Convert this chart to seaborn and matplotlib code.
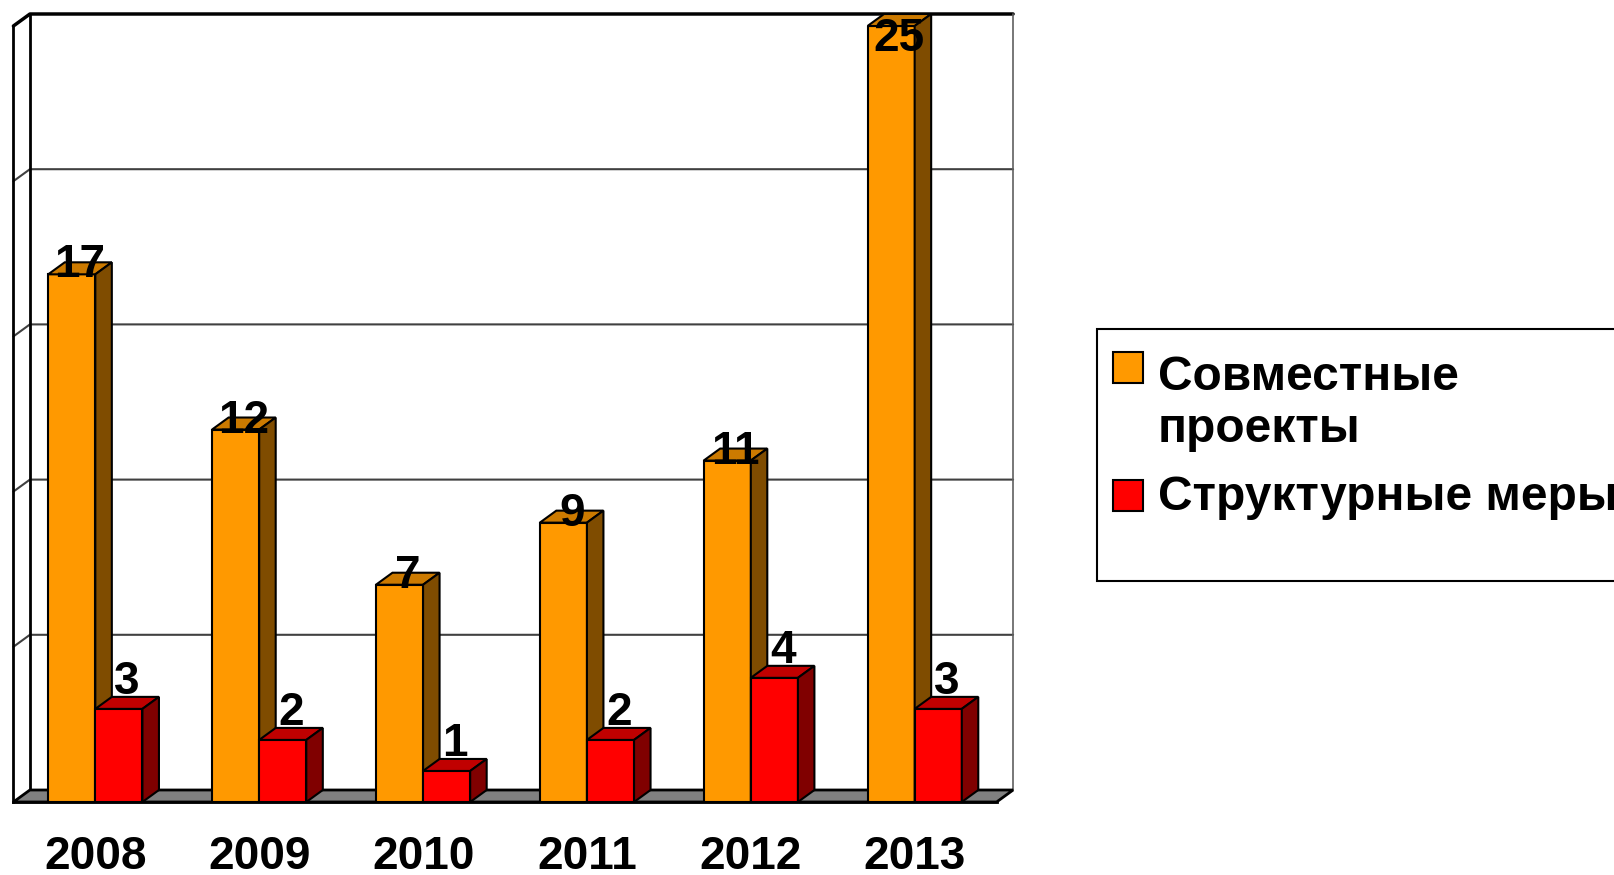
import numpy as np
import pandas as pd
import matplotlib
matplotlib.use("Agg")
import matplotlib.pyplot as plt
from matplotlib.patches import Polygon, Rectangle
import seaborn as sns

# données
years = ["2008", "2009", "2010", "2011", "2012", "2013"]
series_names = ["Совместные\nпроекты", "Структурные меры"]
joint_projects = [17, 12, 7, 9, 11, 25]
structural = [3, 2, 1, 2, 4, 3]
y_max = 25
grid_step = 5

front_colors = ["#FF9900", "#FF0000"]
top_colors = ["#CC7A00", "#C00000"]
side_colors = ["#7F4C00", "#800000"]

df = pd.DataFrame({
    "year": years * 2,
    "series": [series_names[0]] * len(years) + [series_names[1]] * len(years),
    "value": joint_projects + structural,
})

sns.set_style("white")
plt.rcParams["font.family"] = ["Liberation Sans", "DejaVu Sans"]
plt.rcParams["text.color"] = "black"
plt.rcParams["xtick.color"] = "black"

W, H = 1614, 875
fig = plt.figure(figsize=(W / 100, H / 100), dpi=100)
ax = fig.add_axes([13.4 / W, (H - 802) / H, 983.2 / W, 776 / H])

sns.barplot(data=df, x="year", y="value", hue="series", palette=front_colors,
            saturation=1, width=0.575, edgecolor="black", linewidth=1.5,
            legend=False, ax=ax)

n = len(years)
x0, x1 = -0.5, n - 0.5
ax.set_xlim(x0, x1)
ax.set_ylim(0, y_max)

# profondeur du faux 3D en unités de données
DX = 16.5 / (983.2 / n)
DY = 12 / (776 / y_max)

# murs / sol
ax.add_patch(Rectangle((x0 + DX, DY), n, y_max, facecolor="white", edgecolor="none",
                       zorder=0, clip_on=False))
ax.add_patch(Polygon([(x0, 0), (x1, 0), (x1 + DX, DY), (x0 + DX, DY)], closed=True,
                     facecolor="#808080", edgecolor="black", lw=2, zorder=1, clip_on=False))
for lv in range(grid_step, y_max, grid_step):
    ax.plot([x0, x0 + DX, x1 + DX], [lv, lv + DY, lv + DY], color="#404040", lw=1.5,
            zorder=0.5, clip_on=False)
ax.plot([x0, x0 + DX, x1 + DX], [y_max, y_max + DY, y_max + DY], color="black", lw=2.5,
        zorder=0.5, clip_on=False)
ax.plot([x0 + DX, x0 + DX], [DY, y_max + DY], color="black", lw=2, zorder=0.5, clip_on=False)
ax.plot([x1 + DX, x1 + DX], [DY, y_max + DY], color="#606060", lw=1.2, zorder=0.5, clip_on=False)

# faces du dessus et de côté
label_offsets = [-0.1, 0.47]
label_ceiling = 24.2
for i, cont in enumerate(ax.containers):
    for bar in cont:
        bx, bw, h = bar.get_x(), bar.get_width(), bar.get_height()
        bar.set_zorder(2 + i)
        ax.add_patch(Polygon([(bx, h), (bx + bw, h), (bx + bw + DX, h + DY), (bx + DX, h + DY)],
                             closed=True, facecolor=top_colors[i], edgecolor="black",
                             lw=1.5, zorder=2 + i, clip_on=False))
        ax.add_patch(Polygon([(bx + bw, 0), (bx + bw, h), (bx + bw + DX, h + DY), (bx + bw + DX, DY)],
                             closed=True, facecolor=side_colors[i], edgecolor="black",
                             lw=1.5, zorder=2 + i, clip_on=False))
        ax.text(bx + bw / 2 + DX / 2, min(h + label_offsets[i], label_ceiling), f"{h:g}",
                ha="center", va="baseline", fontsize=33, fontweight="bold",
                color="black", zorder=5)

for s in ["top", "right"]:
    ax.spines[s].set_visible(False)
for s in ["left", "bottom"]:
    ax.spines[s].set_color("black")
    ax.spines[s].set_linewidth(2)
    ax.spines[s].set_zorder(4)

ax.set_yticks([])
ax.set_xticks(range(n))
ax.set_xticklabels(years, fontsize=33, fontweight="bold", color="black")
ax.tick_params(axis="x", which="major", length=0, pad=24)
ax.set_xticks(np.arange(x0, x1 + 1), minor=True)
ax.tick_params(axis="x", which="minor", length=8.6, width=1.5, color="black", direction="out")
ax.set_xlabel("")
ax.set_ylabel("")

# légende (cadre sort à droite comme dans l'original)
fig.add_artist(Rectangle((1097 / W, 1 - 581 / H), 600 / W, 252 / H, transform=fig.transFigure,
                         facecolor="white", edgecolor="black", lw=1.5))
marker_tops = [352, 480]
last_baselines = [442, 510]
for i, name in enumerate(series_names):
    fig.add_artist(Rectangle((1113 / W, 1 - (marker_tops[i] + 31) / H), 30 / W, 31 / H,
                             transform=fig.transFigure, facecolor=front_colors[i],
                             edgecolor="black", lw=1.5))
    fig.text(1158 / W, 1 - last_baselines[i] / H, name, fontsize=34.5, fontweight="bold",
             va="baseline", ha="left", linespacing=1.2, color="black")

fig.savefig("out.png", dpi=100)
